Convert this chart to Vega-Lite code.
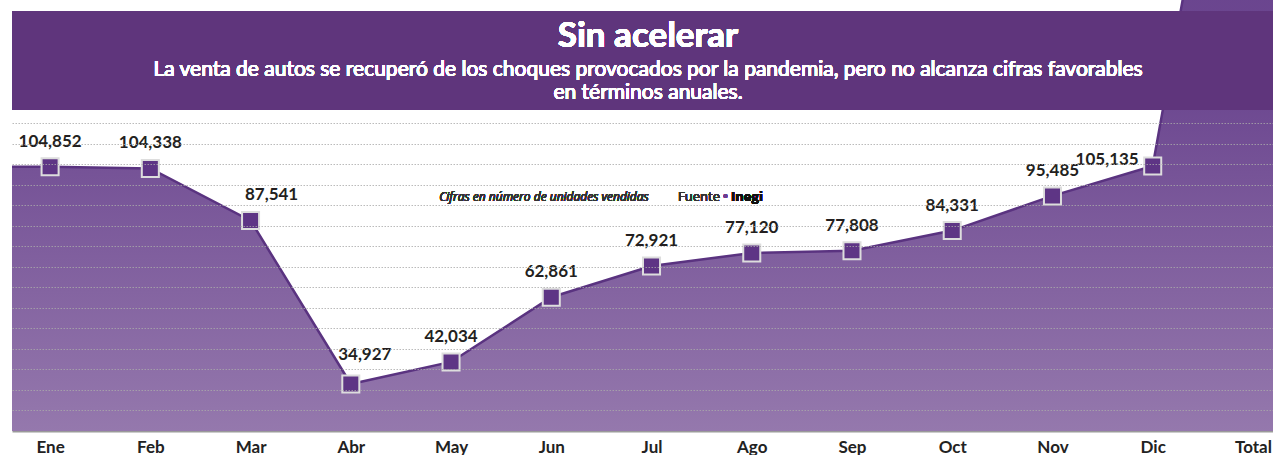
{
  "$schema": "https://vega.github.io/schema/vega-lite/v6.json",
  "width": 1261,
  "height": 431,
  "padding": {"left": 12, "top": 0, "right": 0, "bottom": 0},
  "autosize": {"type": "pad"},
  "background": "white",
  "config": {"view": {"stroke": null}, "font": "Lato"},
  "data": {
    "values": [
      {"m": "", "i": -1, "v": 104852},
      {"m": "Ene", "i": 0, "v": 104852},
      {"m": "Feb", "i": 1, "v": 104338},
      {"m": "Mar", "i": 2, "v": 87541},
      {"m": "Abr", "i": 3, "v": 34927},
      {"m": "May", "i": 4, "v": 42034},
      {"m": "Jun", "i": 5, "v": 62861},
      {"m": "Jul", "i": 6, "v": 72921},
      {"m": "Ago", "i": 7, "v": 77120},
      {"m": "Sep", "i": 8, "v": 77808},
      {"m": "Oct", "i": 9, "v": 84331},
      {"m": "Nov", "i": 10, "v": 95485},
      {"m": "Dic", "i": 11, "v": 105135},
      {"m": "Total", "i": 12, "v": 284000},
      {"m": "", "i": 13, "v": 463000}
    ]
  },
  "encoding": {
    "x": {
      "field": "i",
      "type": "quantitative",
      "scale": {"domain": [-0.38, 12.2], "nice": false, "zero": false},
      "axis": {
        "title": null,
        "values": [0, 1, 2, 3, 4, 5, 6, 7, 8, 9, 10, 11, 12],
        "labelExpr": "['Ene','Feb','Mar','Abr','May','Jun','Jul','Ago','Sep','Oct','Nov','Dic','Total'][datum.value]",
        "labelFont": "Lato",
        "labelFontWeight": "bold",
        "labelFontSize": 17,
        "labelColor": "#222222",
        "labelPadding": 8,
        "labelFlush": false,
        "ticks": false,
        "grid": false,
        "domainColor": "#9a9a9a",
        "domainWidth": 2
      }
    },
    "y": {
      "field": "v",
      "type": "quantitative",
      "scale": {"domain": [19800, 158560], "nice": false, "zero": false},
      "axis": {
        "title": null,
        "labels": false,
        "ticks": false,
        "domain": false,
        "values": [26400, 33000, 39600, 46200, 52800, 59400, 66000, 72600, 79200, 85800, 92400, 99000, 105600, 112200, 118800],
        "grid": true,
        "gridColor": "#aaaaaa",
        "gridDash": [1.5, 1.5],
        "gridWidth": 1,
        "gridOpacity": 0.8,
        "zindex": 1
      }
    }
  },
  "layer": [
    {
      "mark": {
        "type": "area",
        "clip": true,
        "color": {
          "gradient": "linear",
          "x1": 0, "y1": 0, "x2": 0, "y2": 1,
          "stops": [
            {"offset": 0, "color": "#5e3585"},
            {"offset": 0.72, "color": "#6c4790"},
            {"offset": 1, "color": "#9c81b2"}
          ]
        }
      }
    },
    {
      "mark": {"type": "line", "clip": true, "color": "#5a3380", "strokeWidth": 2.5}
    },
    {
      "mark": {
        "type": "rect",
        "color": "#5f357c"
      },
      "encoding": {
        "x": null,
        "y": {"datum": 123145, "type": "quantitative"},
        "y2": {"datum": 155018}
      }
    },
    {
      "transform": [{"filter": "datum.i >= 0 && datum.i <= 11"}],
      "mark": {
        "type": "point",
        "shape": "square",
        "size": 290,
        "filled": true,
        "fill": "#5e3585",
        "stroke": "#dddddd",
        "strokeWidth": 2,
        "opacity": 1
      }
    },
    {
      "transform": [{"filter": "datum.i >= 0 && datum.i <= 11 && datum.m != 'Mar' && datum.m != 'Dic' && datum.m != 'Abr'"}],
      "mark": {"type": "text", "font": "Lato", "fontWeight": "bold", "fontSize": 17, "color": "#231f20", "dy": -25, "baseline": "middle", "align": "center"},
      "encoding": {"text": {"field": "v", "type": "quantitative", "format": ","}}
    },
    {
      "transform": [{"filter": "datum.m == 'Mar'"}],
      "mark": {"type": "text", "font": "Lato", "fontWeight": "bold", "fontSize": 17, "color": "#231f20", "dx": 21, "dy": -26, "baseline": "middle", "align": "center"},
      "encoding": {"text": {"field": "v", "type": "quantitative", "format": ","}}
    },
    {
      "transform": [{"filter": "datum.m == 'Abr'"}],
      "mark": {"type": "text", "font": "Lato", "fontWeight": "bold", "fontSize": 17, "color": "#231f20", "dx": 14, "dy": -29, "baseline": "middle", "align": "center"},
      "encoding": {"text": {"field": "v", "type": "quantitative", "format": ","}}
    },
    {
      "transform": [{"filter": "datum.m == 'Dic'"}],
      "mark": {"type": "text", "font": "Lato", "fontWeight": "bold", "fontSize": 17, "color": "#231f20", "dx": -14, "dy": -6, "baseline": "middle", "align": "right"},
      "encoding": {"text": {"field": "v", "type": "quantitative", "format": ","}}
    },
    {
      "mark": {"type": "text", "font": "Lato", "fontWeight": "bold", "fontSize": 35, "color": "white", "align": "center", "baseline": "middle", "text": "Sin acelerar"},
      "encoding": {
        "x": {"datum": 5.965, "type": "quantitative"},
        "y": {"datum": 146969, "type": "quantitative"},
        "text": null
      }
    },
    {
      "mark": {"type": "text", "font": "Lato", "fontSize": 21, "color": "white", "align": "center", "baseline": "middle", "text": "La venta de autos se recuperó de los choques provocados por la pandemia, pero no alcanza cifras favorables"},
      "encoding": {
        "x": {"datum": 5.965, "type": "quantitative"},
        "y": {"datum": 136184, "type": "quantitative"},
        "text": null
      }
    },
    {
      "mark": {"type": "text", "font": "Lato", "fontSize": 21, "color": "white", "align": "center", "baseline": "middle", "text": "en términos anuales."},
      "encoding": {
        "x": {"datum": 5.965, "type": "quantitative"},
        "y": {"datum": 128779, "type": "quantitative"},
        "text": null
      }
    },
    {
      "mark": {"type": "text", "font": "Open Sans", "fontStyle": "italic", "fontSize": 12, "color": "#333333", "align": "center", "baseline": "middle", "text": "Cifras en número de unidades vendidas"},
      "encoding": {
        "x": {"datum": 4.927, "type": "quantitative"},
        "y": {"datum": 95136, "type": "quantitative"},
        "text": null
      }
    },
    {
      "mark": {"type": "text", "font": "Open Sans", "fontSize": 13, "color": "#333333", "align": "right", "baseline": "middle", "text": "Fuente"},
      "encoding": {
        "x": {"datum": 6.683, "type": "quantitative"},
        "y": {"datum": 95136, "type": "quantitative"},
        "text": null
      }
    },
    {
      "mark": {"type": "text", "font": "Open Sans", "fontSize": 13, "fontWeight": "bold", "color": "#6a3d8f", "align": "center", "baseline": "middle", "text": "•"},
      "encoding": {
        "x": {"datum": 6.738, "type": "quantitative"},
        "y": {"datum": 95136, "type": "quantitative"},
        "text": null
      }
    },
    {
      "mark": {"type": "text", "font": "Open Sans", "fontSize": 13, "fontWeight": "bold", "color": "#111111", "align": "left", "baseline": "middle", "text": "Inegi"},
      "encoding": {
        "x": {"datum": 6.793, "type": "quantitative"},
        "y": {"datum": 95136, "type": "quantitative"},
        "text": null
      }
    }
  ]
}
